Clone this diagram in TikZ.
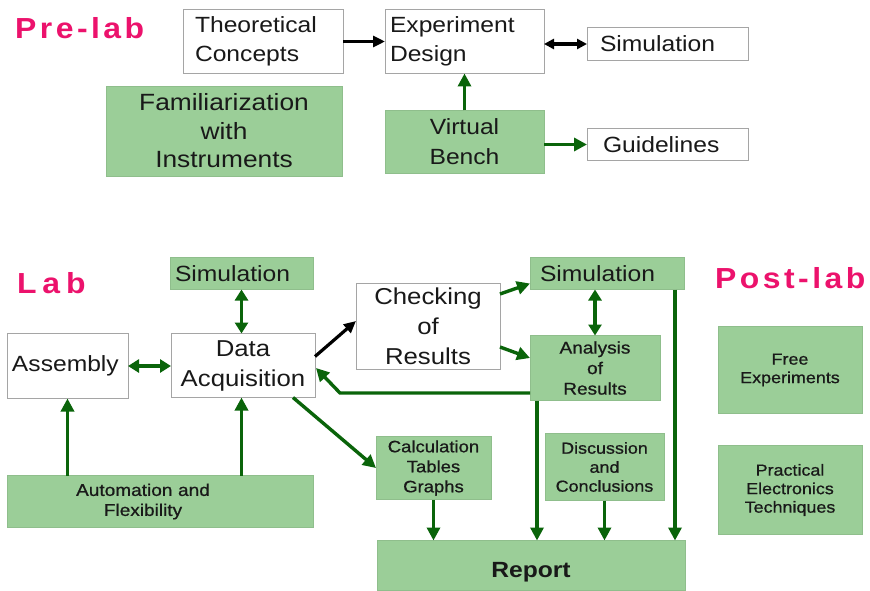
\documentclass[tikz,border=0pt]{standalone}
\usepackage{fontspec}
\setmainfont{Liberation Sans}[FakeStretch=1.12]
\newfontfamily\smallfont{Liberation Sans}[FakeStretch=1.12,FakeBold=0.8]
\newfontfamily\labfont{Liberation Sans}[FakeStretch=1.1,LetterSpace=12]
\usetikzlibrary{arrows.meta}
\definecolor{lgreen}{RGB}{155,206,152}
\definecolor{dgreen}{RGB}{10,100,10}
\definecolor{bgray}{RGB}{165,165,165}
\definecolor{pinklab}{RGB}{236,18,108}
\definecolor{txt}{RGB}{25,25,25}
\begin{document}
\begin{tikzpicture}[x=1pt,y=-1pt,
  every node/.style={text=txt},
  wbox/.style={draw=bgray,fill=white,line width=1pt,inner ysep=0pt,outer sep=0pt},
  gbox/.style={fill=lgreen,draw=lgreen!92!black,line width=0.6pt,inner ysep=0pt,outer sep=0pt},
  big/.style={font=\fontsize{22}{29}\selectfont},
  small/.style={font=\smallfont\fontsize{16}{18.5}\selectfont},
  lab/.style={font=\labfont\bfseries\fontsize{29}{30}\selectfont,text=pinklab,anchor=base west,inner sep=0pt},
  garr/.style={draw=dgreen,line width=3.4pt,-{Triangle[length=13pt,width=13pt]}},
  gdarr/.style={draw=dgreen,line width=3.4pt,{Triangle[length=11pt,width=13pt]}-{Triangle[length=11pt,width=13pt]}},
  barr/.style={draw=black,line width=3.2pt,-{Triangle[length=12pt,width=11pt]}},
  bdarr/.style={draw=black,line width=3.2pt,{Triangle[length=10pt,width=10pt]}-{Triangle[length=10pt,width=10pt]}}
]
\useasboundingbox[fill=white] (0,0) rectangle (870,591);

% ---------- Pre-lab ----------
\node[lab] (prelab) at (15,39) {Pre-lab};
\node[wbox,big,align=left,inner xsep=12pt,text width=136pt,minimum height=64pt] (theo) at (263,41.5) {Theoretical\\Concepts};
\node[wbox,big,align=left,inner xsep=5pt,text width=149pt,minimum height=64pt] (expd) at (464.5,41.5) {Experiment\\Design};
\node[wbox,big,align=left,inner xsep=13pt,text width=135pt,minimum height=33pt] (sim1) at (667.5,44) {Simulation};
\node[gbox,font=\fontsize{23.5}{28.5}\selectfont,align=center,minimum width=236pt,minimum height=90pt] (fam) at (224,131) {Familiarization\\with\\Instruments};
\node[gbox,font=\fontsize{22}{30}\selectfont,align=center,minimum width=159pt,minimum height=63pt] (vb) at (464.5,142) {Virtual\\Bench};
\node[wbox,big,align=left,inner xsep=16pt,text width=129pt,minimum height=32pt] (guide) at (667.5,144.5) {Guidelines};

\draw[barr] (theo.east) -- (expd.west);
\draw[bdarr] (expd.east |- sim1.west) -- (sim1.west);
\draw[garr] (vb.north) -- (expd.south);
\draw[garr] (vb.east |- guide.west) -- (guide.west);

% ---------- Lab ----------
\node[lab] (lablab) at (17,293) {\addfontfeature{LetterSpace=20}Lab};
\node[gbox,big,align=left,inner xsep=5pt,text width=133pt,minimum height=32pt] (sim2) at (241.5,273.5) {Simulation};
\node[wbox,big,align=left,inner xsep=5pt,text width=111pt,minimum height=65pt] (asm) at (67.5,366) {Assembly};
\node[wbox,font=\fontsize{23}{30}\selectfont,align=center,minimum width=144pt,minimum height=64pt] (daq) at (243,365.5) {Data\\Acquisition};
\node[wbox,font=\fontsize{23}{30}\selectfont,align=center,minimum width=144pt,minimum height=86pt] (chk) at (428,326) {Checking\\of\\Results};
\node[gbox,big,align=left,inner xsep=10pt,text width=134pt,minimum height=32pt] (sim3) at (607,273.5) {Simulation};
\node[gbox,font=\smallfont\fontsize{17}{20.5}\selectfont,align=center,minimum width=130pt,minimum height=65pt] (ana) at (595,368) {Analysis\\of\\Results};
\node[gbox,font=\smallfont\fontsize{17}{20}\selectfont,align=left,inner xsep=66pt,text width=174pt,minimum height=52pt] (auto) at (160,501.5) {\makebox[140pt]{Automation and}\\\makebox[140pt]{Flexibility}};
\node[gbox,font=\smallfont\fontsize{16.5}{20}\selectfont,align=center,minimum width=115pt,minimum height=63pt] (calc) at (433.5,468) {Calculation\\Tables\\Graphs};
\node[gbox,font=\smallfont\fontsize{16}{19}\selectfont,align=center,minimum width=119pt,minimum height=67pt] (disc) at (604.5,467) {Discussion\\and\\Conclusions};
\node[gbox,font=\bfseries\fontsize{22}{26}\selectfont,align=center,minimum width=308pt,minimum height=50pt,text height=25pt,text depth=1pt] (rep) at (531,565.5) {Report};

% ---------- Post-lab ----------
\node[lab] (postlab) at (715,288) {Post-lab};
\node[gbox,small,align=center,minimum width=144pt,minimum height=87pt] (free) at (790,370) {Free\\Experiments};
\node[gbox,small,align=center,minimum width=144pt,minimum height=89pt] (pet) at (790,490) {Practical\\Electronics\\Techniques};

% ---------- Lab connectors ----------
\draw[gdarr] (sim2.south) -- (sim2.south |- daq.north);
\draw[gdarr] (asm.east) -- (asm.east -| daq.west);
\draw[garr] (asm.south |- auto.north) -- (asm.south);
\draw[garr] (sim2.south |- auto.north) -- (sim2.south |- daq.south);
\draw[barr] ([yshift=9pt]daq.east) -- ([yshift=5pt]chk.west);
\draw[garr] ([xshift=-22pt]daq.south east) -- (calc.west);
\draw[garr] ([yshift=32pt]chk.east) -- ([yshift=-10pt]sim3.west);
\draw[garr] ([yshift=-21pt]chk.east) -- ([yshift=10pt]ana.west);
\draw[gdarr] (ana.north) -- (ana.north |- sim3.south);
\coordinate (bend) at (340,393);
\coordinate (tip) at (316,368);
\draw[garr] (ana.west |- bend) -- (bend) -- (tip);
\coordinate (a1) at ([xshift=7pt]ana.south west);
\draw[garr] (a1) -- (a1 |- rep.north);
\coordinate (s1) at ([xshift=-9pt]sim3.south east);
\draw[garr] (s1) -- (s1 |- rep.north);
\draw[garr] (calc.south) -- (calc.south |- rep.north);
\draw[garr] (disc.south) -- (disc.south |- rep.north);
\end{tikzpicture}
\end{document}
